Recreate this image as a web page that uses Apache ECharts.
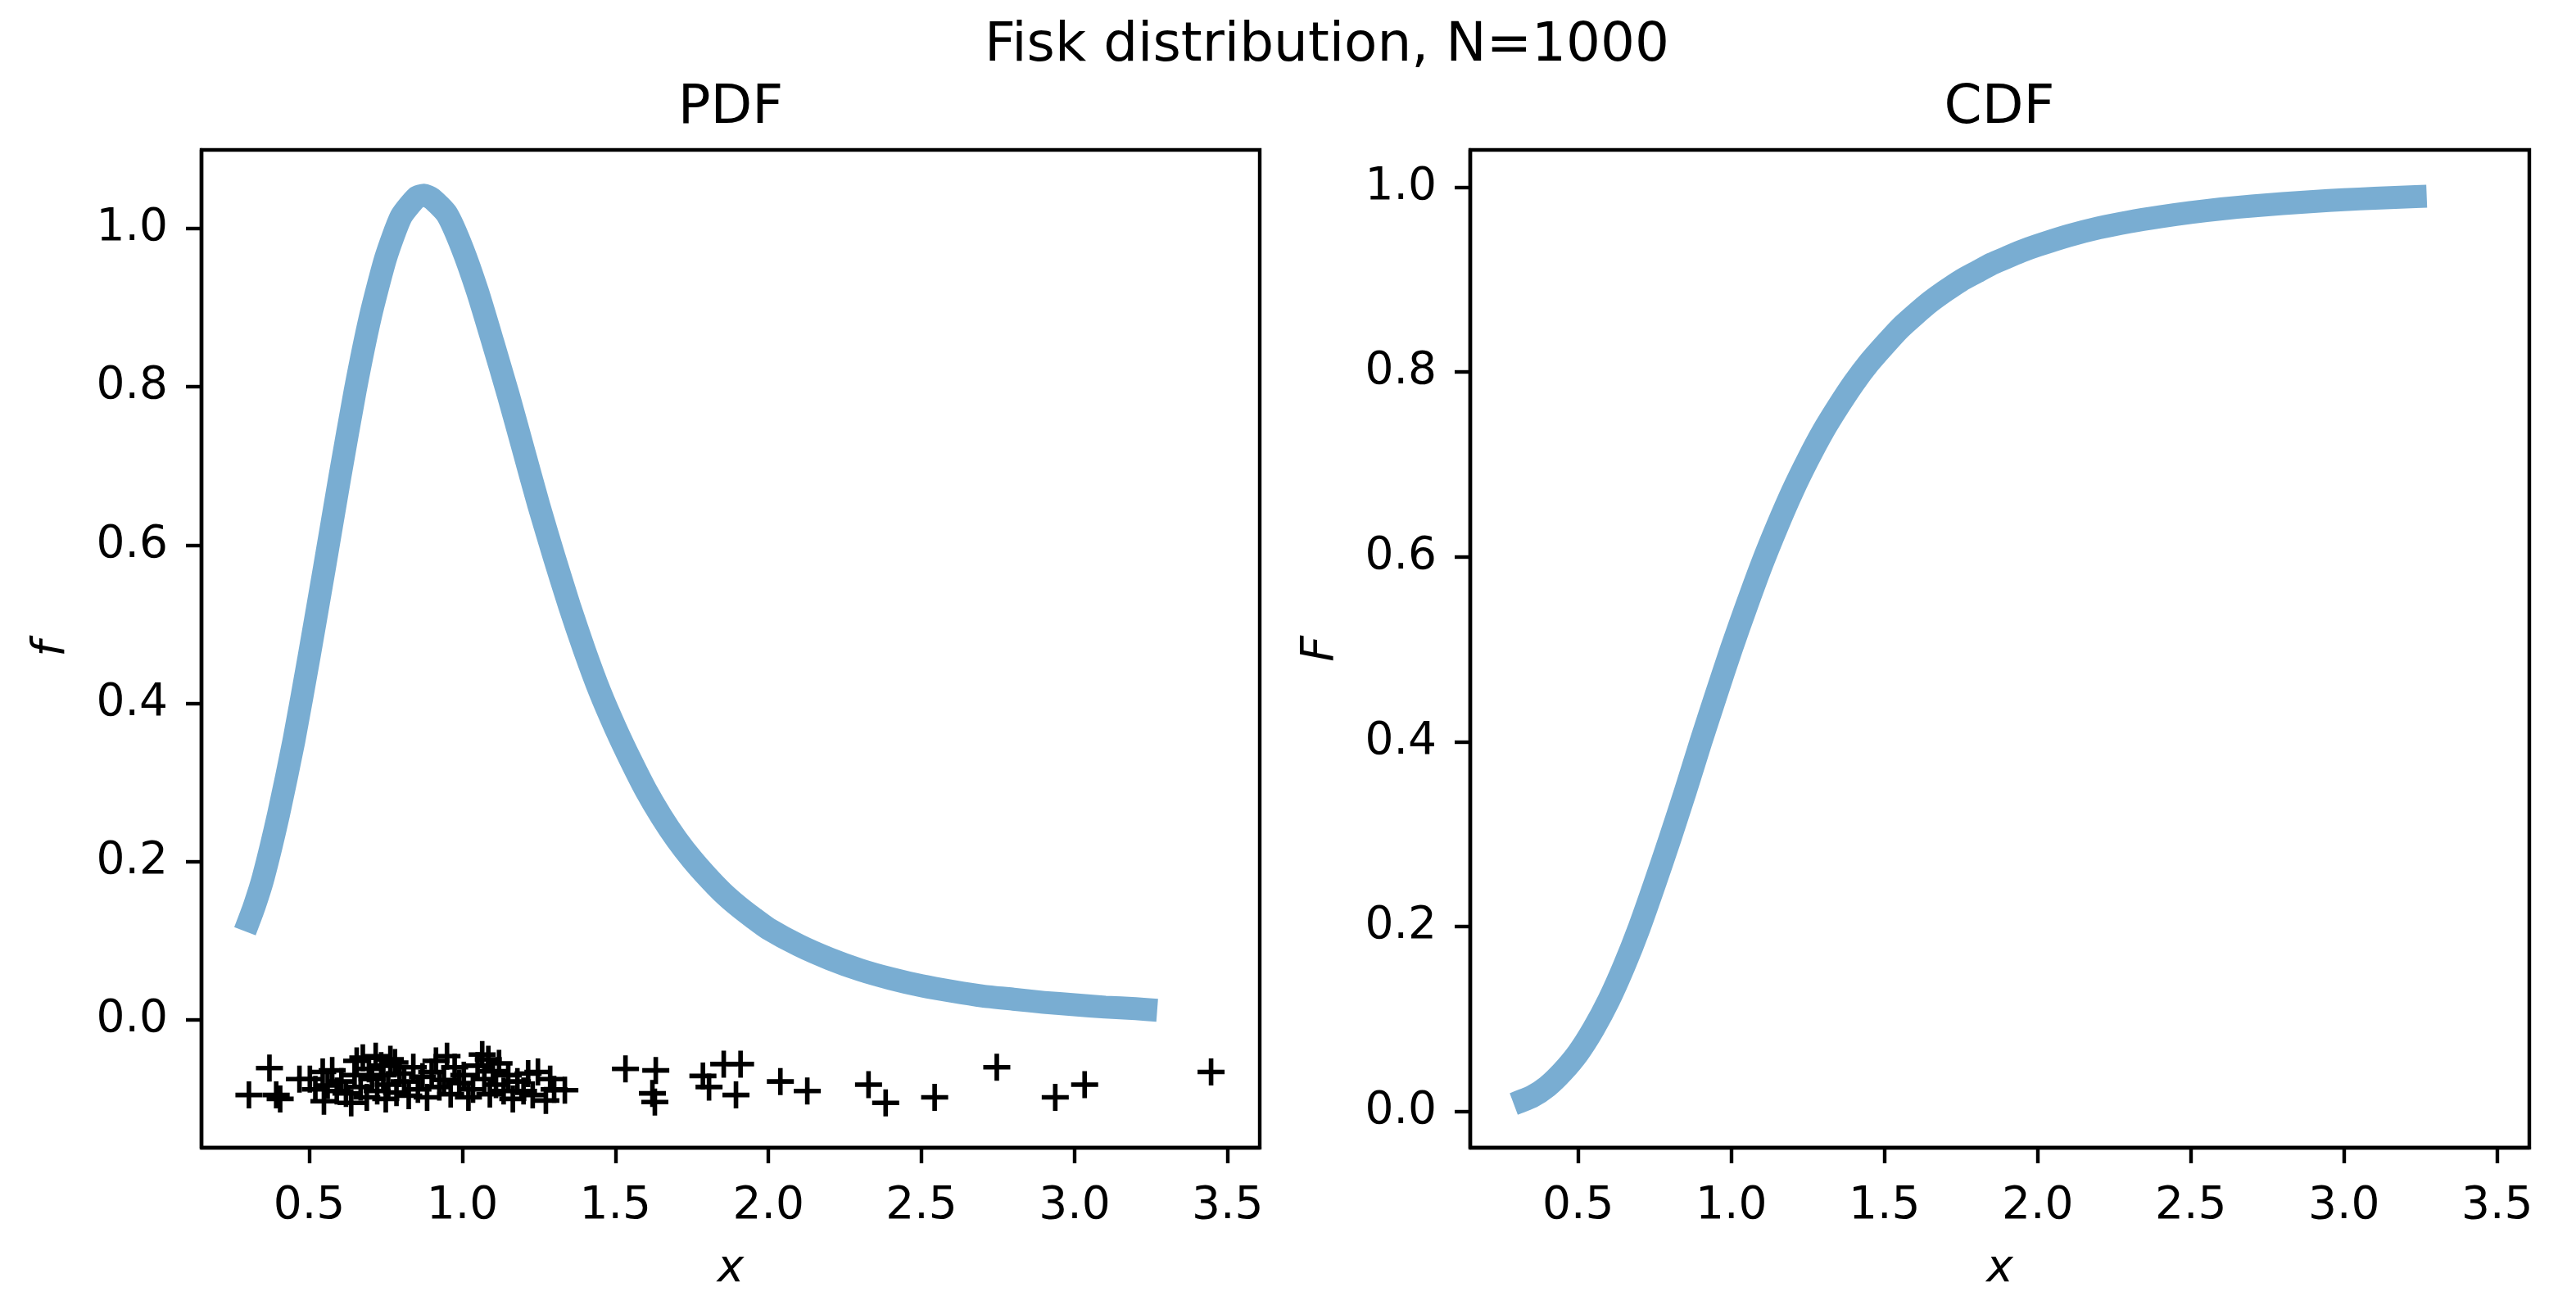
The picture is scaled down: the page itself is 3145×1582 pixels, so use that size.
<!DOCTYPE html>
<html>
<head>
<meta charset="utf-8">
<script src="https://cdn.jsdelivr.net/npm/echarts@6/dist/echarts.min.js"></script>
<style>
  html, body { margin: 0; padding: 0; background: #fff; }
  #chart { width: 3145px; height: 1582px; }
</style>
</head>
<body>
<div id="chart"></div>
<script>
// values
const pdfX = [0.29, 0.32, 0.35, 0.40, 0.45, 0.50, 0.55, 0.60, 0.65, 0.70, 0.75, 0.80, 0.85, 0.875, 0.90, 0.95,
  1.00, 1.05, 1.10, 1.15, 1.20, 1.25, 1.30, 1.35, 1.40, 1.45, 1.50, 1.55, 1.60, 1.65, 1.70, 1.75, 1.80, 1.85,
  1.90, 1.95, 2.00, 2.10, 2.20, 2.30, 2.40, 2.50, 2.60, 2.70, 2.80, 2.90, 3.00, 3.10, 3.20, 3.27]
const pdfY = [0.112, 0.143, 0.18, 0.26, 0.353, 0.46, 0.572, 0.686, 0.795, 0.889, 0.963, 1.015, 1.039, 1.042, 1.038, 1.018,
  0.975, 0.92, 0.856, 0.79, 0.72, 0.65, 0.585, 0.523, 0.466, 0.414, 0.369, 0.328, 0.29, 0.257, 0.228, 0.203, 0.181, 0.161,
  0.144, 0.129, 0.115, 0.094, 0.077, 0.063, 0.052, 0.043, 0.036, 0.030, 0.026, 0.022, 0.019, 0.016, 0.014, 0.012]

const cdfX = [0.29, 0.35, 0.40, 0.45, 0.50, 0.55, 0.60, 0.65, 0.70, 0.75, 0.80, 0.85, 0.90, 0.95, 1.00,
  1.05, 1.10, 1.15, 1.20, 1.25, 1.30, 1.35, 1.40, 1.45, 1.50, 1.55, 1.60, 1.65, 1.70, 1.75, 1.80, 1.85, 1.90, 1.95,
  2.00, 2.10, 2.20, 2.30, 2.40, 2.50, 2.60, 2.70, 2.80, 2.90, 3.00, 3.10, 3.20, 3.27]
const cdfY = [0.008, 0.016, 0.027, 0.043, 0.063, 0.089, 0.12, 0.157, 0.199, 0.246, 0.295, 0.346, 0.399, 0.45, 0.50,
  0.547, 0.592, 0.633, 0.671, 0.705, 0.736, 0.763, 0.788, 0.81, 0.829, 0.847, 0.862, 0.876, 0.888, 0.899, 0.908, 0.917,
  0.924, 0.931, 0.937, 0.9475, 0.956, 0.9626, 0.968, 0.9727, 0.9765, 0.9796, 0.9822, 0.9845, 0.9864, 0.988, 0.9894, 0.9903]

const sampleX = [0.303, 0.370, 0.392, 0.405, 0.468, 0.502, 0.520, 0.544, 0.548, 0.560, 0.575, 0.590, 0.605, 0.620,
  0.637, 0.648, 0.655, 0.668, 0.675, 0.688, 0.695, 0.705, 0.717, 0.722, 0.735, 0.742, 0.750, 0.758, 0.765, 0.780,
  0.785, 0.795, 0.810, 0.825, 0.840, 0.855, 0.870, 0.885, 0.900, 0.914, 0.925, 0.940, 0.950, 0.962, 0.975, 0.990,
  1.005, 1.020, 1.035, 1.050, 1.065, 1.072, 1.085, 1.090, 1.100, 1.110, 1.120, 1.135, 1.150, 1.165, 1.180, 1.200,
  1.215, 1.230, 1.247, 1.273, 1.287, 1.300, 1.335,
  1.533, 1.621, 1.629, 1.632, 1.786, 1.806, 1.854, 1.894, 1.909, 2.039, 2.127, 2.327, 2.383, 2.543, 2.746, 2.937,
  3.033, 3.446]
const sampleY = [-0.095, -0.061, -0.095, -0.100, -0.075, -0.075, -0.088, -0.066, -0.103, -0.083, -0.064, -0.090,
  -0.078, -0.093, -0.105, -0.070, -0.052, -0.085, -0.048, -0.098, -0.062, -0.075, -0.046, -0.090, -0.058, -0.070,
  -0.100, -0.082, -0.050, -0.054, -0.092, -0.068, -0.078, -0.096, -0.060, -0.088, -0.072, -0.098, -0.066, -0.052,
  -0.085, -0.076, -0.046, -0.094, -0.060, -0.080, -0.070, -0.098, -0.088, -0.058, -0.044, -0.075, -0.050, -0.094,
  -0.065, -0.082, -0.055, -0.090, -0.070, -0.100, -0.078, -0.090, -0.068, -0.095, -0.066, -0.102, -0.075, -0.088,
  -0.089,
  -0.062, -0.093, -0.104, -0.064, -0.071, -0.085, -0.056, -0.095, -0.056, -0.078, -0.090, -0.082, -0.105, -0.098,
  -0.060, -0.098, -0.082, -0.066]

const xTicks = [0.5, 1.0, 1.5, 2.0, 2.5, 3.0, 3.5]
const yTicks = [0.0, 0.2, 0.4, 0.6, 0.8, 1.0]

const FONT = 'DejaVu Sans'
const LINE_COLOR = 'rgba(31,119,180,0.6)'
const PLUS = 'path://M0,4.15H10V5.85H0ZM4.15,0H5.85V10H4.15Z'

const zip = (xs, ys) => xs.map((x, i) => [x, ys[i]])

function xAxisOf(gridIndex, name) {
  return {
    type: 'value',
    gridIndex,
    min: 0.148,
    max: 3.605,
    name,
    nameLocation: 'middle',
    nameGap: 121,
    nameTextStyle: { fontFamily: FONT, fontSize: 55, fontStyle: 'italic', color: '#000' },
    axisLine: { show: true, onZero: false, lineStyle: { color: '#000', width: 4.4 } },
    axisTick: { show: true, customValues: xTicks, length: 19, lineStyle: { color: '#000', width: 4.4 } },
    axisLabel: {
      customValues: xTicks, margin: 44, color: '#000', fontFamily: FONT, fontSize: 55,
      formatter: (v) => Number(v).toFixed(1),
    },
    splitLine: { show: false },
  }
}

function yAxisOf(gridIndex, name, min, max) {
  return {
    type: 'value',
    gridIndex,
    min,
    max,
    name,
    nameLocation: 'middle',
    nameRotate: 90,
    nameGap: 155,
    nameTextStyle: { fontFamily: FONT, fontSize: 55, fontStyle: 'italic', color: '#000' },
    axisLine: { show: true, onZero: false, lineStyle: { color: '#000', width: 4.4 } },
    axisTick: { show: true, customValues: yTicks, length: 19, lineStyle: { color: '#000', width: 4.4 } },
    axisLabel: {
      customValues: yTicks, margin: 41, color: '#000', fontFamily: FONT, fontSize: 55,
      formatter: (v) => Number(v).toFixed(1),
    },
    splitLine: { show: false },
  }
}

function titleText(text, x, y) {
  return {
    type: 'text',
    x, y,
    style: {
      text, fill: '#000', font: '66px "DejaVu Sans"',
      align: 'center', verticalAlign: 'middle', textAlign: 'center', textVerticalAlign: 'middle',
    },
  }
}

const chart = echarts.init(document.getElementById('chart'), null, { renderer: 'canvas' })

chart.setOption({
  backgroundColor: '#fff',
  animation: false,
  grid: [
    { left: 246, top: 183, width: 1292, height: 1232, show: true, borderColor: '#000', borderWidth: 4.4, backgroundColor: 'transparent' },
    { left: 1795, top: 183, width: 1293, height: 1232, show: true, borderColor: '#000', borderWidth: 4.4, backgroundColor: 'transparent' },
  ],
  xAxis: [xAxisOf(0, 'x'), xAxisOf(1, 'x')],
  yAxis: [yAxisOf(0, 'f', -0.1617, 1.0993), yAxisOf(1, 'F', -0.0394, 1.0403)],
  graphic: [
    titleText('Fisk distribution, N=1000', 1620, 57),
    titleText('PDF', 892, 133),
    titleText('CDF', 2441, 133),
  ],
  series: [
    {
      type: 'line',
      xAxisIndex: 0,
      yAxisIndex: 0,
      data: zip(pdfX, pdfY),
      showSymbol: false,
      smooth: 0.2,
      lineStyle: { color: LINE_COLOR, width: 28, cap: 'butt', join: 'round' },
    },
    {
      type: 'scatter',
      xAxisIndex: 0,
      yAxisIndex: 0,
      data: zip(sampleX, sampleY),
      symbol: PLUS,
      symbolSize: 33,
      itemStyle: { color: '#000', opacity: 1 },
    },
    {
      type: 'line',
      xAxisIndex: 1,
      yAxisIndex: 1,
      data: zip(cdfX, cdfY),
      showSymbol: false,
      smooth: 0.2,
      lineStyle: { color: LINE_COLOR, width: 28, cap: 'butt', join: 'round' },
    },
  ],
})
</script>
</body>
</html>
